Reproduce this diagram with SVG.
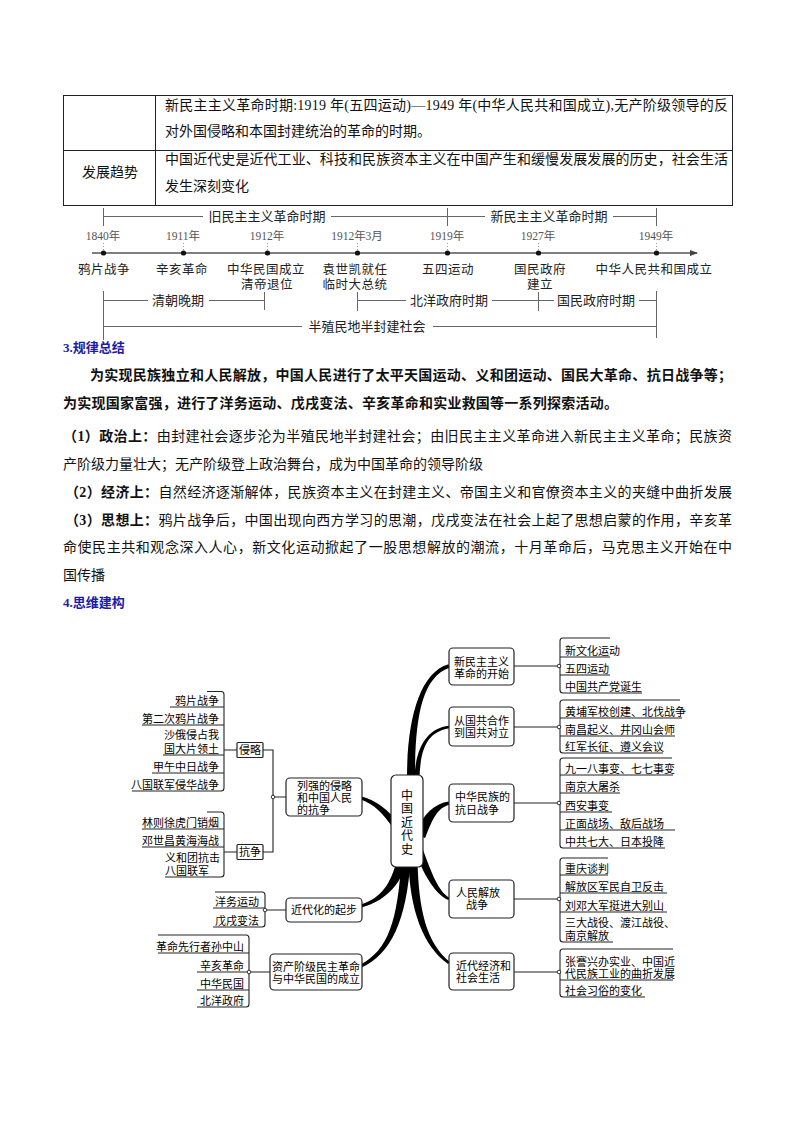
<svg xmlns="http://www.w3.org/2000/svg" width="794" height="1122" viewBox="0 0 794 1122">
<style>
.t{font-family:"Liberation Serif","Noto Sans CJK SC",serif;font-size:14px;fill:#111}
.b{font-weight:bold}
.h{font-family:"Liberation Serif","Noto Sans CJK SC",serif;font-size:13px;font-weight:bold;fill:#1c1ca8}
.tl{font-family:"Liberation Sans","Noto Sans CJK SC",sans-serif;font-size:13px;fill:#222;text-anchor:middle}
.tl2{font-size:12.5px;letter-spacing:0.5px}
.yr{font-family:"Liberation Serif","Noto Sans CJK SC",serif;font-size:11.5px;fill:#555;text-anchor:middle}
.ln{stroke:#666;stroke-width:1;fill:none}
.dt{stroke:#999;stroke-width:1;stroke-dasharray:1 2}
.m{font-family:"Liberation Serif","Noto Sans CJK SC",serif;font-size:11px;fill:#000}
.e{text-anchor:end}
.c{text-anchor:middle}
.box{fill:#fff;stroke:#222;stroke-width:1.2}
.br{fill:none;stroke:#222;stroke-width:1.1}
.stem{fill:#000}
.jn{fill:#fff;stroke:#222;stroke-width:0.9}
.tb{fill:none;stroke:#222;stroke-width:1}
</style>
<defs>
<marker id="arr" markerWidth="8" markerHeight="8" refX="7" refY="4" orient="auto" markerUnits="userSpaceOnUse">
<path d="M0,1 L8,4 L0,7 Z" fill="#444"/>
</marker>
</defs>
<rect width="794" height="1122" fill="#fff"/>

<g id="table">
<rect class="tb" x="63.5" y="95.5" width="669" height="110"/>
<line class="tb" x1="155.5" y1="95.5" x2="155.5" y2="205.5"/>
<line class="tb" x1="63.5" y1="150.5" x2="732.5" y2="150.5"/>
<text class="t" x="165" y="110" textLength="563" lengthAdjust="spacing">新民主主义革命时期:1919 年(五四运动)—1949 年(中华人民共和国成立),无产阶级领导的反</text>
<text class="t" x="165" y="136">对外国侵略和本国封建统治的革命的时期。</text>
<text class="t" x="110" y="177" text-anchor="middle">发展趋势</text>
<text class="t" x="165" y="164" textLength="563" lengthAdjust="spacing">中国近代史是近代工业、科技和民族资本主义在中国产生和缓慢发展发展的历史，社会生活</text>
<text class="t" x="165" y="191">发生深刻变化</text>
</g>

<g id="timeline">
<g class="ln">
<line x1="103.5" y1="208" x2="103.5" y2="226"/>
<line x1="447.5" y1="208" x2="447.5" y2="226"/>
<line x1="656.5" y1="208" x2="656.5" y2="226"/>
<line x1="103.5" y1="216.5" x2="203" y2="216.5"/>
<line x1="331" y1="216.5" x2="485" y2="216.5"/>
<line x1="613" y1="216.5" x2="656.5" y2="216.5"/>
<line x1="103.5" y1="291" x2="103.5" y2="340"/>
<line x1="264.5" y1="292" x2="264.5" y2="310"/>
<line x1="357.5" y1="292" x2="357.5" y2="311"/>
<line x1="538.5" y1="292" x2="538.5" y2="311"/>
<line x1="656.5" y1="291" x2="656.5" y2="338"/>
<line x1="103.5" y1="300.5" x2="148" y2="300.5"/>
<line x1="209" y1="300.5" x2="264.5" y2="300.5"/>
<line x1="357.5" y1="300.5" x2="406" y2="300.5"/>
<line x1="492" y1="300.5" x2="538.5" y2="300.5"/>
<line x1="538.5" y1="300.5" x2="554" y2="300.5"/>
<line x1="639" y1="300.5" x2="656.5" y2="300.5"/>
<line x1="103.5" y1="326.5" x2="302" y2="326.5"/>
<line x1="433" y1="326.5" x2="656.5" y2="326.5"/>
</g>
<text class="tl" x="267" y="221">旧民主主义革命时期</text>
<text class="tl" x="549" y="221">新民主主义革命时期</text>
<g>
<text class="yr" x="103" y="240">1840年</text>
<text class="yr" x="183" y="240">1911年</text>
<text class="yr" x="267" y="240">1912年</text>
<text class="yr" x="357" y="240">1912年3月</text>
<text class="yr" x="447" y="240">1919年</text>
<text class="yr" x="538" y="240">1927年</text>
<text class="yr" x="656" y="240">1949年</text>
</g>
<g class="dt">
<line x1="103.5" y1="243" x2="103.5" y2="250"/>
<line x1="183.5" y1="243" x2="183.5" y2="250"/>
<line x1="267.5" y1="243" x2="267.5" y2="250"/>
<line x1="357.5" y1="243" x2="357.5" y2="250"/>
<line x1="447.5" y1="243" x2="447.5" y2="250"/>
<line x1="538.5" y1="243" x2="538.5" y2="250"/>
<line x1="656.5" y1="243" x2="656.5" y2="250"/>
</g>
<line x1="92" y1="253" x2="697" y2="253" stroke="#555" stroke-width="1.6" marker-end="url(#arr)"/>
<g fill="#111">
<circle cx="103.5" cy="253" r="2.6"/>
<circle cx="183.5" cy="253" r="2.6"/>
<circle cx="267.5" cy="253" r="2.6"/>
<circle cx="357.5" cy="253" r="2.6"/>
<circle cx="447.5" cy="253" r="2.6"/>
<circle cx="538.5" cy="253" r="2.6"/>
<circle cx="656.5" cy="253" r="2.6"/>
</g>
<text class="tl tl2" x="104" y="273.5">鸦片战争</text>
<text class="tl tl2" x="182" y="273.5">辛亥革命</text>
<text class="tl tl2" x="266" y="273.5">中华民国成立<tspan x="267" dy="15">清帝退位</tspan></text>
<text class="tl tl2" x="355" y="273.5">袁世凯就任<tspan x="355" dy="15">临时大总统</tspan></text>
<text class="tl tl2" x="448" y="273.5">五四运动</text>
<text class="tl tl2" x="540" y="273.5">国民政府<tspan x="540" dy="15">建立</tspan></text>
<text class="tl tl2" x="654" y="273.5">中华人民共和国成立</text>
<text class="tl" x="178" y="305">清朝晚期</text>
<text class="tl" x="449" y="305">北洋政府时期</text>
<text class="tl" x="596" y="305">国民政府时期</text>
<text class="tl" x="367" y="331">半殖民地半封建社会</text>
</g>

<g id="summary">
<text class="h" x="63" y="352">3.规律总结</text>
<text class="t b" x="90" y="380" textLength="642" lengthAdjust="spacing">为实现民族独立和人民解放，中国人民进行了太平天国运动、义和团运动、国民大革命、抗日战争等；</text>
<text class="t b" x="63" y="408" textLength="555" lengthAdjust="spacing">为实现国家富强，进行了洋务运动、戊戌变法、辛亥革命和实业救国等一系列探索活动。</text>
<text class="t" x="63" y="441" textLength="669" lengthAdjust="spacing"><tspan class="b">（1）政治上：</tspan>由封建社会逐步沦为半殖民地半封建社会；由旧民主主义革命进入新民主主义革命；民族资</text>
<text class="t" x="63" y="469">产阶级力量壮大；无产阶级登上政治舞台，成为中国革命的领导阶级</text>
<text class="t" x="65" y="497" textLength="667" lengthAdjust="spacing"><tspan class="b">（2）经济上：</tspan>自然经济逐渐解体，民族资本主义在封建主义、帝国主义和官僚资本主义的夹缝中曲折发展</text>
<text class="t" x="65" y="525" textLength="667" lengthAdjust="spacing"><tspan class="b">（3）思想上：</tspan>鸦片战争后，中国出现向西方学习的思潮，戊戌变法在社会上起了思想启蒙的作用，辛亥革</text>
<text class="t" x="63" y="552" textLength="669" lengthAdjust="spacing">命使民主共和观念深入人心，新文化运动掀起了一股思想解放的潮流，十月革命后，马克思主义开始在中</text>
<text class="t" x="63" y="580">国传播</text>
<text class="h" x="63" y="607">4.思维建构</text>
</g>

<g id="connectors">
<path class="stem" d="M407,778 C407,720 419.4,672.5 448.5,664.2 L449.5,667.8 C421,677.5 415,720 415,778 Z"/>
<path class="stem" d="M414.5,778 C415.5,748 426.8,728.2 448.9,725.7 L449.1,728.3 C427.5,732 420.5,748 419.5,778 Z"/>
<path class="stem" d="M414.9,834 C422.9,814 435.3,803.1 448.7,801.5 L449.3,804.5 C436.7,808.9 433.1,818 425.1,838 Z"/>
<path class="stem" d="M421.8,846.6 C431.8,873.6 437.9,891.2 449.6,897.9 L448.4,900.1 C436.1,894.8 424.2,876.4 414.2,849.4 Z"/>
<path class="stem" d="M417.5,860 C418.5,910 426.5,943 449.8,962 L448.2,964 C423.5,947 409.5,910 408.5,860 Z"/>
<path class="stem" d="M393.2,828 C383.2,814 374.5,803.9 360.6,799.4 L361.4,796.6 C375.5,800.1 388.8,810 398.8,824 Z"/>
<path class="stem" d="M406.9,861.2 C400.9,886.2 382.5,902 361.4,907.4 L360.6,904.6 C381.5,898 391.1,883.8 397.1,858.8 Z"/>
<path class="stem" d="M410.5,860.3 C406.5,920.3 391.1,954.3 361.6,967.4 L360.4,964.6 C388.9,949.7 397.5,919.7 401.5,859.7 Z"/>

<path class="br" d="M207,691.5 H221 Q224,691.5 224,694.5 V788 Q224,791 221,791 H132"/>
<path class="br" d="M170,707 H224 M142,725 H224 M163,755 H224 M152,773 H224 M224,750 H237"/>
<path class="br" d="M207,812 H221 Q224,812 224,815 V874 Q224,877 221,877 H165"/>
<path class="br" d="M142,829 H224 M142,847 H224 M224,852 H237"/>
<path class="br" d="M263,750 H273 V852 H263 M273,797 H286"/>
<circle class="jn" cx="273" cy="797" r="1.8"/>
<path class="br" d="M215,892 H262 Q265,892 265,895 V924 Q265,927 262,927 H213 M213,908 H265 M265,910 H286"/>
<circle class="jn" cx="265" cy="910" r="1.8"/>
<path class="br" d="M158,935 H246 Q249,935 249,938 V1004 Q249,1007 246,1007 H197 M158,953 H249 M197,972 H270 M197,990 H249"/>
<circle class="jn" cx="249" cy="972" r="1.8"/>

<path class="br" d="M610,638 H563 Q560,638 560,641 V690 Q560,693 563,693 H642 M560,657 H610 M560,675 H610 M514,666 H560"/>
<circle class="jn" cx="559" cy="666" r="1.8"/>
<path class="br" d="M680,700 H563 Q560,700 560,703 V750 Q560,753 563,753 H663 M560,718 H682 M560,736 H675 M514,727 H560"/>
<circle class="jn" cx="559" cy="727" r="1.8"/>
<path class="br" d="M672,758 H563 Q560,758 560,761 V845 Q560,848 563,848 H665 M560,775 H673 M560,793 H620 M560,812 H612 M560,830 H675 M514,803 H560"/>
<circle class="jn" cx="559" cy="803" r="1.8"/>
<path class="br" d="M608,858 H563 Q560,858 560,861 V939 Q560,942 563,942 H613 M560,875 H608 M560,893 H667 M560,912 H667 M514,899 H560"/>
<circle class="jn" cx="559" cy="899" r="1.8"/>
<path class="br" d="M673,949 H563 Q560,949 560,952 V994 Q560,997 563,997 H645 M560,980 H673 M514,972 H560"/>
<circle class="jn" cx="559" cy="972" r="1.8"/>
</g>

<g id="node-center">
<rect class="box" x="391" y="775" width="32" height="92" rx="5"/>
<text class="m c" x="407" y="799.5" style="font-size:12px">中</text>
<text class="m c" x="407" y="813" style="font-size:12px">国</text>
<text class="m c" x="407" y="826.5" style="font-size:12px">近</text>
<text class="m c" x="407" y="840" style="font-size:12px">代</text>
<text class="m c" x="407" y="853.5" style="font-size:12px">史</text>
</g>

<g id="node-liqiang">
<rect class="box" x="286" y="778" width="76" height="38" rx="4"/>
<text class="m" x="297" y="790">列强的侵略</text>
<text class="m" x="297" y="802">和中国人民</text>
<text class="m" x="297" y="813.5">的抗争</text>
</g>
<g id="node-qinlue">
<rect class="box" x="237" y="742.5" width="26" height="15" rx="1"/>
<text class="m c" x="250" y="754">侵略</text>
</g>
<g id="node-kangzheng">
<rect class="box" x="237" y="844.5" width="26" height="15" rx="1"/>
<text class="m c" x="250" y="856">抗争</text>
</g>
<g id="items-qinlue">
<text class="m e" x="219" y="704.5">鸦片战争</text>
<text class="m e" x="219" y="722.5">第二次鸦片战争</text>
<text class="m" x="164" y="739">沙俄侵占我</text>
<text class="m" x="164" y="752.5">国大片领土</text>
<text class="m e" x="219" y="770.5">甲午中日战争</text>
<text class="m e" x="219" y="788.5">八国联军侵华战争</text>
</g>
<g id="items-kangzheng">
<text class="m e" x="219" y="826.5">林则徐虎门销烟</text>
<text class="m e" x="219" y="844.5">邓世昌黄海海战</text>
<text class="m" x="165" y="862">义和团抗击</text>
<text class="m" x="165" y="874.5">八国联军</text>
</g>

<g id="node-jindaihua">
<rect class="box" x="286" y="898" width="76" height="24" rx="4"/>
<text class="m c" x="324" y="914">近代化的起步</text>
</g>
<g id="items-jindaihua">
<text class="m e" x="259" y="905.5">洋务运动</text>
<text class="m e" x="259" y="924.5">戊戌变法</text>
</g>

<g id="node-zichan">
<rect class="box" x="270" y="954" width="92" height="36" rx="4"/>
<text class="m c" x="316" y="971">资产阶级民主革命</text>
<text class="m c" x="316" y="983">与中华民国的成立</text>
</g>
<g id="items-zichan">
<text class="m e" x="244" y="950.5">革命先行者孙中山</text>
<text class="m e" x="244" y="969.5">辛亥革命</text>
<text class="m e" x="244" y="987.5">中华民国</text>
<text class="m e" x="244" y="1004.5">北洋政府</text>
</g>

<g id="node-xinminzhu">
<rect class="box" x="449" y="648" width="65" height="37" rx="4"/>
<text class="m c" x="481.5" y="666">新民主主义</text>
<text class="m c" x="481.5" y="677.5">革命的开始</text>
</g>
<g id="items-xinminzhu">
<text class="m" x="565" y="654.5">新文化运动</text>
<text class="m" x="565" y="672.5">五四运动</text>
<text class="m" x="565" y="690.5">中国共产党诞生</text>
</g>

<g id="node-guogong">
<rect class="box" x="449" y="707" width="65" height="39" rx="4"/>
<text class="m c" x="481.5" y="725">从国共合作</text>
<text class="m c" x="481.5" y="737">到国共对立</text>
</g>
<g id="items-guogong">
<text class="m" x="565" y="715.5">黄埔军校创建、北伐战争</text>
<text class="m" x="565" y="733.5">南昌起义、井冈山会师</text>
<text class="m" x="565" y="750.5">红军长征、遵义会议</text>
</g>

<g id="node-kangri">
<rect class="box" x="449" y="784" width="65" height="38" rx="4"/>
<text class="m" x="455" y="801">中华民族的</text>
<text class="m" x="455" y="814">抗日战争</text>
</g>
<g id="items-kangri">
<text class="m" x="565" y="772.5">九一八事变、七七事变</text>
<text class="m" x="565" y="790.5">南京大屠杀</text>
<text class="m" x="565" y="809.5">西安事变</text>
<text class="m" x="565" y="827.5">正面战场、敌后战场</text>
<text class="m" x="565" y="845.5">中共七大、日本投降</text>
</g>

<g id="node-jiefang">
<rect class="box" x="449" y="880" width="65" height="38" rx="4"/>
<text class="m" x="456" y="897">人民解放</text>
<text class="m c" x="477" y="909">战争</text>
</g>
<g id="items-jiefang">
<text class="m" x="565" y="872.5">重庆谈判</text>
<text class="m" x="565" y="890.5">解放区军民自卫反击</text>
<text class="m" x="565" y="909.5">刘邓大军挺进大别山</text>
<text class="m" x="565" y="927">三大战役、渡江战役、</text>
<text class="m" x="565" y="939.5">南京解放</text>
</g>

<g id="node-jingji">
<rect class="box" x="449" y="953" width="65" height="37" rx="4"/>
<text class="m" x="456" y="970">近代经济和</text>
<text class="m" x="456" y="982">社会生活</text>
</g>
<g id="items-jingji">
<text class="m" x="565" y="966">张謇兴办实业、中国近</text>
<text class="m" x="565" y="977.5">代民族工业的曲折发展</text>
<text class="m" x="565" y="994.5">社会习俗的变化</text>
</g>
</svg>
